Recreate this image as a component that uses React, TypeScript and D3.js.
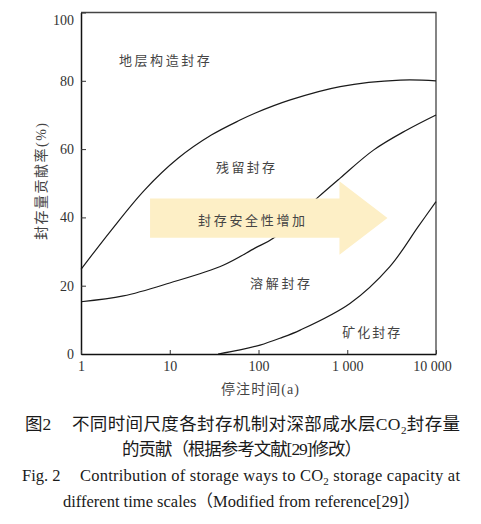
import React, { useEffect, useRef } from 'react'
import * as d3 from 'd3'

// 时间轴 (a) 与贡献率轴 (%)
const timeTicks = [1, 10, 100, 1000, 10000]
const timeTickLabels = ['1', '10', '100', '1 000', '10 000']
const shareTicks = [0, 20, 40, 60, 80, 100]

// 地层构造封存 / 残留封存 分界线
const structuralT = [1, 2.2, 5.2, 12.4, 29.4, 62, 91, 228, 832, 3970, 10000]
const structuralV = [24.8, 36.3, 48, 57.3, 64.1, 68.5, 70.5, 74.4, 78.3, 80.2, 80]

// 残留封存 / 溶解封存 分界线
const residualT = [1, 3, 10, 40, 91, 148, 474, 832, 1974, 4700, 10000]
const residualV = [15.3, 17, 20.8, 26, 31, 34, 46, 51.5, 59.7, 65.6, 70]

// 溶解封存 / 矿化封存 分界线
const mineralT = [35, 62, 104, 174, 295, 1072, 3020, 6300, 10000]
const mineralV = [0, 1.2, 2.6, 4.6, 7, 14.8, 25.6, 37.3, 44.6]

// 区域标注
const regionNames = ['地层构造封存', '残留封存', '封存安全性增加', '溶解封存', '矿化封存']
const regionT = [8.7, 71.6, 83.6, 175, 1860]
const regionV = [86.1, 54.5, 39.2, 20.8, 6.4]

// 箭头 (起点、箭头根部、箭尖) 与其纵向中心/半宽
const arrowT = [6, 817, 2840]
const arrowV = [39.8, 5.75, 10.75]

const W = 481
const H = 524
const margin = { top: 12.5, right: 45, bottom: 170, left: 81 }

const cjk = "'Noto Sans CJK SC', sans-serif"
const serif = "'Liberation Serif', 'Noto Sans CJK SC', serif"

const App: React.FC = () => {
    const plotRef = useRef<SVGGElement | null>(null)

    useEffect(() => {
        if (!plotRef.current) return
        const g = d3.select(plotRef.current)
        g.selectAll('*').remove()

        const x = d3
            .scaleLog()
            .domain([1, 10000])
            .range([margin.left, W - margin.right])
        const y = d3
            .scaleLinear()
            .domain([0, 100])
            .range([H - margin.bottom, margin.top])

        // 外框 (上、右)
        g.append('path')
            .attr('d', `M${x(1)},${y(100)}H${x(10000)}V${y(0)}`)
            .attr('fill', 'none')
            .attr('stroke', '#444')
            .attr('stroke-width', 1.3)

        // 曲线
        const line = d3
            .line<[number, number]>()
            .x((d) => x(d[0]))
            .y((d) => y(d[1]))
            .curve(d3.curveCatmullRom.alpha(0.5))

        const curves: [number[], number[]][] = [
            [structuralT, structuralV],
            [residualT, residualV],
            [mineralT, mineralV],
        ]
        curves.forEach(([ts, vs]) => {
            g.append('path')
                .datum(ts.map((t, i) => [t, vs[i]] as [number, number]))
                .attr('fill', 'none')
                .attr('stroke', '#1a1a1a')
                .attr('stroke-width', 1.2)
                .attr('d', line)
        })

        // 箭头
        const [c, bodyHalf, headHalf] = arrowV
        const [t0, t1, t2] = arrowT
        const arrowPts: [number, number][] = [
            [x(t0), y(c + bodyHalf)],
            [x(t1), y(c + bodyHalf)],
            [x(t1), y(c + headHalf)],
            [x(t2), y(c)],
            [x(t1), y(c - headHalf)],
            [x(t1), y(c - bodyHalf)],
            [x(t0), y(c - bodyHalf)],
        ]
        g.append('polygon')
            .attr('points', arrowPts.map((p) => p.join(',')).join(' '))
            .attr('fill', '#fdefc6')

        // 坐标轴
        const yAxis = g
            .append('g')
            .attr('transform', `translate(${margin.left},0)`)
            .call(
                d3
                    .axisLeft(y)
                    .tickValues(shareTicks)
                    .tickSizeInner(-5)
                    .tickSizeOuter(0)
                    .tickPadding(7)
            )
        yAxis.select('.domain').attr('stroke', '#111').attr('stroke-width', 1.5)
        yAxis.selectAll('.tick line').attr('stroke', '#333')
        yAxis
            .selectAll('.tick text')
            .attr('font-family', serif)
            .attr('font-size', 14)
            .attr('fill', '#333')
            .attr('dy', (d) => ((d as number) === 100 ? '0.85em' : '0.32em'))

        const xAxis = g
            .append('g')
            .attr('transform', `translate(0,${H - margin.bottom})`)
            .call(
                d3
                    .axisBottom(x)
                    .tickValues(timeTicks)
                    .tickFormat((_, i) => timeTickLabels[i])
                    .tickSizeInner(-4)
                    .tickSizeOuter(0)
                    .tickPadding(7)
            )
        xAxis.select('.domain').attr('stroke', '#111').attr('stroke-width', 1.5)
        xAxis.selectAll('.tick line').attr('stroke', '#333')
        xAxis
            .selectAll('.tick text')
            .attr('font-family', serif)
            .attr('font-size', 14)
            .attr('fill', '#333')
            .attr('dx', (d) => ((d as number) === 10000 ? -4 : 0))

        // 区域标注
        const textLen = [91, 59, 107, 60, 58]
        regionNames.forEach((name, i) => {
            g.append('text')
                .attr('x', x(regionT[i]))
                .attr('y', y(regionV[i]))
                .attr('dy', '0.35em')
                .attr('text-anchor', 'middle')
                .attr('font-family', cjk)
                .attr('font-size', 13)
                .attr('fill', '#444')
                .attr('textLength', textLen[i])
                .attr('lengthAdjust', 'spacing')
                .text(name)
        })

        // 轴标题
        g.append('text')
            .attr('transform', 'translate(41.5,181.5) rotate(-90)')
            .attr('text-anchor', 'middle')
            .attr('dy', '0.35em')
            .attr('font-family', serif)
            .attr('font-size', 14)
            .attr('fill', '#444')
            .attr('textLength', 117)
            .attr('lengthAdjust', 'spacing')
            .text('封存量贡献率(%)')

        g.append('text')
            .attr('x', 260)
            .attr('y', 389)
            .attr('dy', '0.35em')
            .attr('text-anchor', 'middle')
            .attr('font-family', serif)
            .attr('font-size', 14)
            .attr('fill', '#444')
            .attr('textLength', 78)
            .attr('lengthAdjust', 'spacing')
            .text('停注时间(a)')
    }, [])

    return (
        <svg
            width={W}
            height={H}
            viewBox={`0 0 ${W} ${H}`}
            style={{ position: 'absolute', left: 0, top: 0, background: '#fff' }}
        >
            <g ref={plotRef} />
            <g fill="#1a1a1a">
                <text x={25} y={430} fontFamily={serif} fontSize={17.5}>
                    图2
                </text>
                <text
                    x={72}
                    y={430}
                    fontFamily={serif}
                    fontSize={17.5}
                    textLength={388}
                    lengthAdjust="spacing"
                >
                    不同时间尺度各封存机制对深部咸水层CO
                    <tspan fontSize={11} dy={4}>2</tspan>
                    <tspan dy={-4}>封存量</tspan>
                </text>
                <text
                    x={122}
                    y={455}
                    fontFamily={serif}
                    fontSize={17.5}
                    textLength={240}
                    lengthAdjust="spacing"
                >
                    的贡献（根据参考文献[29]修改）
                </text>
                <text x={22} y={481} fontFamily={serif} fontSize={16.5}>
                    Fig. 2
                </text>
                <text
                    x={80}
                    y={481}
                    fontFamily={serif}
                    fontSize={16.5}
                    textLength={380}
                    lengthAdjust="spacing"
                >
                    Contribution of storage ways to CO
                    <tspan fontSize={11} dy={4}>2</tspan>
                    <tspan dy={-4}> storage capacity at</tspan>
                </text>
                <text
                    x={63}
                    y={507}
                    fontFamily={serif}
                    fontSize={16.5}
                    textLength={357}
                    lengthAdjust="spacing"
                >
                    different time scales（Modified from reference[29]）
                </text>
            </g>
        </svg>
    )
}

export default App
